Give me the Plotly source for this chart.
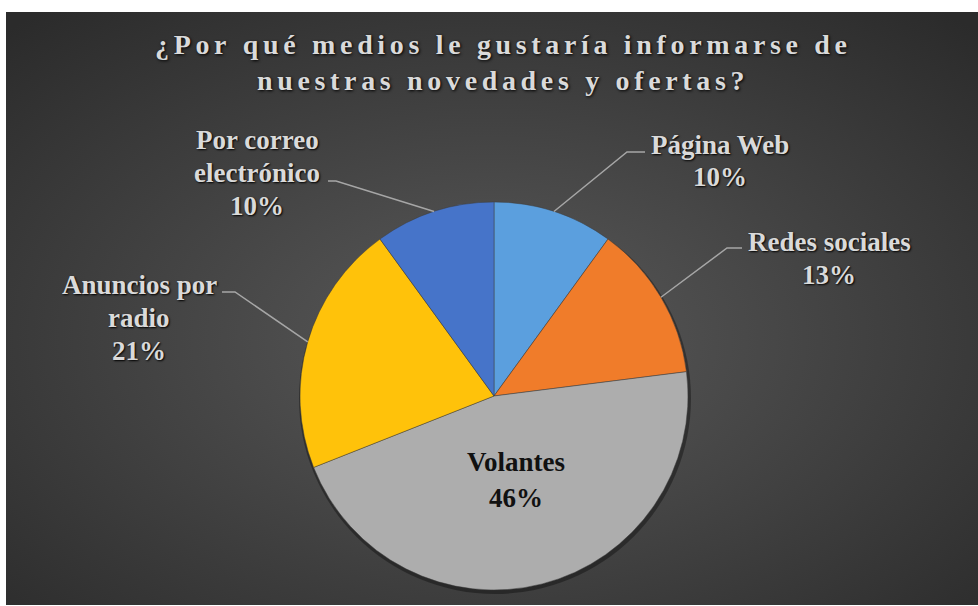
import base64
import math
import plotly.graph_objects as go

# --- data -------------------------------------------------------------
categories = ["Página Web", "Redes sociales", "Volantes",
              "Anuncios por radio", "Por correo electrónico"]
label_lines = [["Página Web"], ["Redes sociales"], ["Volantes"],
               ["Anuncios por", "radio"], ["Por correo", "electrónico"]]
values = [10, 13, 46, 21, 10]
colors = ["#5B9FDE", "#F07C2A", "#ADADAD", "#FFC20A", "#4674C9"]

title_lines = ["¿Por qué medios le gustaría informarse de",
               "nuestras novedades y ofertas?"]

SERIF = "Liberation Serif"

# --- geometry (pixels in a 978 x 606 page) -----------------------------
W, H = 978, 606
CX, CY, R = 494, 396, 194
LINE_GAP = 33


def px(x):
    return x / W


def py(y):
    return 1 - y / H


# label block centres and leader hooks (text end, elbow)
label_layout = {
    "Página Web": dict(center=(720, 161), hook=((645, 152), (627, 152))),
    "Redes sociales": dict(center=(829, 258), hook=((742, 248), (727, 248))),
    "Volantes": dict(center=(516, 480), hook=None),
    "Anuncios por radio": dict(center=(139, 318), hook=((222, 292), (235, 292))),
    "Por correo electrónico": dict(center=(257, 173), hook=((328, 181), (336, 181))),
}

total = sum(values)
pcts = [round(v / total * 100) for v in values]

# --- background: radial grey gradient ---------------------------------
svg = (
    '<svg xmlns="http://www.w3.org/2000/svg" width="972" height="593">'
    '<defs><radialGradient id="g" cx="50%" cy="55%" r="72%">'
    '<stop offset="0" stop-color="#5a5a5a"/>'
    '<stop offset="1" stop-color="#2b2b2b"/>'
    '</radialGradient></defs>'
    '<rect width="100%" height="100%" fill="url(#g)"/></svg>'
)
bg_uri = "data:image/svg+xml;base64," + base64.b64encode(svg.encode()).decode()

fig = go.Figure()
fig.add_trace(go.Pie(
    labels=categories,
    values=values,
    sort=False,
    direction="clockwise",
    rotation=0,
    textinfo="none",
    hoverinfo="label+percent",
    marker=dict(colors=colors, line=dict(color="rgba(60,60,60,0.6)", width=0.8)),
    domain=dict(x=[px(CX - R), px(CX + R)], y=[py(CY + R), py(CY - R)]),
    showlegend=False,
))

annotations = []
shapes = []

# soft shadow under the pie
shapes.append(dict(
    type="circle", xref="paper", yref="paper", layer="below",
    x0=px(CX - R - 1), x1=px(CX + R + 3), y0=py(CY + R + 4), y1=py(CY - R + 1),
    fillcolor="rgba(0,0,0,0.35)", line=dict(width=0),
))

label_font = dict(family=SERIF, size=27, weight="bold",
                  color="#DADADA", shadow="1px 1px 2px #000")


def add_text_block(lines, cx, cy, font, gap):
    n = len(lines)
    for i, line in enumerate(lines):
        y = cy + (i - (n - 1) / 2) * gap
        annotations.append(dict(
            text=line, x=px(cx), y=py(y), xref="paper", yref="paper",
            showarrow=False, xanchor="center", yanchor="middle",
            align="center", font=font,
        ))


cum = 0
for cat, lines, v, p in zip(categories, label_lines, values, pcts):
    mid = (cum + v / 2) / total * 2 * math.pi
    cum += v
    lay = label_layout[cat]
    cxl, cyl = lay["center"]
    inside = lay["hook"] is None
    font = dict(label_font)
    gap = LINE_GAP
    if inside:
        font.update(color="#111111", shadow="none")
        gap = 36
    add_text_block(lines + [f"{p}%"], cxl, cyl, font, gap)
    if not inside:
        (tx, ty), (ex, ey) = lay["hook"]
        sx = CX + R * math.sin(mid)
        sy = CY - R * math.cos(mid)
        path = (f"M {px(tx)} {py(ty)} L {px(ex)} {py(ey)} "
                f"L {px(sx)} {py(sy)}")
        shapes.append(dict(type="path", xref="paper", yref="paper", path=path,
                           line=dict(color="#A6A6A6", width=1.5)))

# spaced-out title
sp = "\u2006"
title_font = dict(family=SERIF, size=28, weight="bold",
                  color="#DADADA", shadow="1px 1px 3px #000")
add_text_block([sp.join(list(line)) for line in title_lines], 501, 62.5,
               title_font, 35)

fig.update_layout(
    width=W, height=H,
    margin=dict(l=0, r=0, t=0, b=0),
    paper_bgcolor="white",
    plot_bgcolor="white",
    images=[dict(source=bg_uri, xref="paper", yref="paper",
                 x=px(6), y=py(12), sizex=972 / W, sizey=593 / H,
                 xanchor="left", yanchor="top", sizing="stretch",
                 layer="below")],
    shapes=shapes,
    annotations=annotations,
)

fig.write_html("out.html")
